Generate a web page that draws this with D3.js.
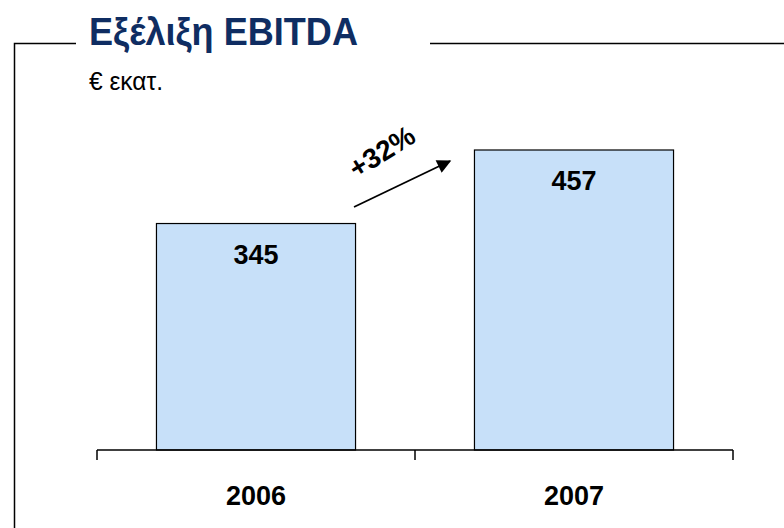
<!DOCTYPE html>
<html><head><meta charset="utf-8">
<script src="https://cdn.jsdelivr.net/npm/d3@7"></script>
<style>body{margin:0;background:#fff}svg{display:block}</style>
</head><body>
<script>
const categories = ["2006", "2007"];
const values = [345, 457];
const growthLabel = "+32%";
const titleText = "Εξέλιξη EBITDA";
const unitText = "€ εκατ.";

const W = 784, H = 528;
const svg = d3.select("body").append("svg").attr("width", W).attr("height", H);

// frame
svg.append("path").attr("d", "M76,43.5H14.5V528").attr("fill","none").attr("stroke","#000").attr("stroke-width",1.5);
svg.append("line").attr("x1",430).attr("x2",784).attr("y1",43.5).attr("y2",43.5).attr("stroke","#000").attr("stroke-width",1.5);

svg.append("text").attr("x",89).attr("y",45).text(titleText)
  .attr("font-family","'Liberation Sans Narrow','Arial Narrow',Arial,sans-serif")
  .attr("font-weight","bold").attr("font-size",38).attr("fill","#0f2d62")
  .attr("textLength",269).attr("lengthAdjust","spacingAndGlyphs");
svg.append("text").attr("x",89).attr("y",90).text(unitText)
  .attr("font-family","'Liberation Sans Narrow','Arial Narrow',Arial,sans-serif")
  .attr("font-size",25).attr("fill","#000")
  .attr("textLength",74).attr("lengthAdjust","spacingAndGlyphs");

const x = d3.scaleBand().domain(categories).range([97, 733]).padding(0);
const y = d3.scaleLinear().domain([0, 457]).range([450, 150]);
const barW = x.bandwidth() * 0.626;

svg.selectAll("rect.bar").data(categories).join("rect")
  .attr("x", d => x(d) + x.bandwidth()/2 - barW/2)
  .attr("y", (d,i) => y(values[i]))
  .attr("width", barW)
  .attr("height", (d,i) => y(0) - y(values[i]))
  .attr("fill", "#c7e0f9").attr("stroke", "#000").attr("stroke-width", 1.2);

svg.selectAll("text.val").data(categories).join("text")
  .attr("x", d => x(d) + x.bandwidth()/2)
  .attr("y", (d,i) => y(values[i]) + 40)
  .attr("text-anchor","middle").attr("font-family","Arial, 'Liberation Sans', sans-serif")
  .attr("font-weight","bold").attr("font-size",27).text((d,i)=>values[i]);

// axis baseline and ticks
const ax = svg.append("g");
ax.append("line").attr("x1",97).attr("x2",733).attr("y1",y(0)).attr("y2",y(0)).attr("stroke","#000").attr("stroke-width",1.5);
const tickXs = [x.range()[0], ...categories.slice(1).map(d=>x(d)), x.range()[1]];
ax.selectAll("line.t").data(tickXs).join("line").attr("class","t")
  .attr("x1",d=>d).attr("x2",d=>d).attr("y1",y(0)).attr("y2",y(0)+10).attr("stroke","#000").attr("stroke-width",1.5);
ax.selectAll("text").data(categories).join("text")
  .attr("x", d => x(d) + x.bandwidth()/2).attr("y", 505)
  .attr("text-anchor","middle").attr("font-family","Arial, 'Liberation Sans', sans-serif")
  .attr("font-weight","bold").attr("font-size",27).text(d=>d);

// growth arrow
const defs = svg.append("defs");
defs.append("marker").attr("id","ah").attr("viewBox","0 0 10 10").attr("refX",9).attr("refY",5)
  .attr("markerWidth",16).attr("markerHeight",14).attr("markerUnits","userSpaceOnUse")
  .attr("orient","auto")
  .append("path").attr("d","M0,0L10,5L0,10Z").attr("fill","#000");
svg.append("line").attr("x1",354).attr("y1",207).attr("x2",450).attr("y2",161)
  .attr("stroke","#000").attr("stroke-width",1.8).attr("marker-end","url(#ah)");
svg.append("text").attr("transform","translate(387,160) rotate(-32)")
  .attr("text-anchor","middle").attr("font-family","Arial, 'Liberation Sans', sans-serif")
  .attr("font-weight","bold").attr("font-size",28)
  .attr("textLength",72).attr("lengthAdjust","spacingAndGlyphs").text(growthLabel);
</script>
</body></html>
